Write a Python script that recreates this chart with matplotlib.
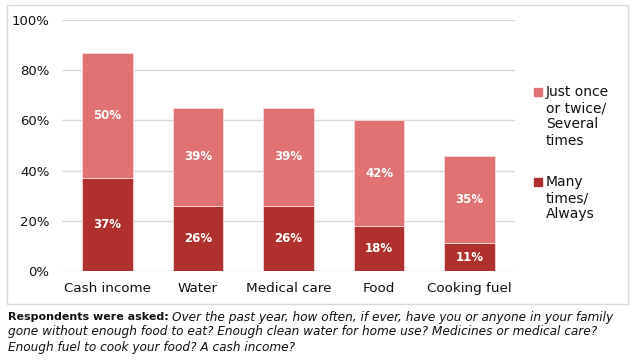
import matplotlib
matplotlib.use("Agg")
import matplotlib.pyplot as plt
from matplotlib.patches import Rectangle
import numpy as np

categories = ["Cash income", "Water", "Medical care", "Food", "Cooking fuel"]
many_times = [37, 26, 26, 18, 11]
once_twice = [50, 39, 39, 42, 35]
series_names = ["Just once\nor twice/\nSeveral\ntimes", "Many\ntimes/\nAlways"]
yticks = [0, 20, 40, 60, 80, 100]

LIGHT = "#E07274"
DARK = "#B0302E"
GRID = "#D9D9D9"

plt.rcParams['font.family'] = ['DejaVu Sans']

W, H = 637, 361
fig = plt.figure(figsize=(W / 100, H / 100), dpi=100)

def fx(x): return x / W
def fy(y): return 1 - y / H

ax = fig.add_axes([fx(62), fy(271), fx(515) - fx(62), fy(20) - fy(271)])
x = np.arange(len(categories))
bw = 0.56
ax.bar(x, many_times, width=bw, color=DARK, edgecolor="#F3D6D6", linewidth=0.6, zorder=3)
ax.bar(x, once_twice, width=bw, bottom=many_times, color=LIGHT, edgecolor="#F7DADA", linewidth=0.6, zorder=3)

for i in range(len(categories)):
    ax.text(x[i], many_times[i] / 2, f"{many_times[i]}%", ha="center", va="center",
            color="white", fontweight="bold", fontsize=8.5, zorder=4)
    ax.text(x[i], many_times[i] + once_twice[i] / 2, f"{once_twice[i]}%", ha="center", va="center",
            color="white", fontweight="bold", fontsize=8.5, zorder=4)

ax.set_ylim(0, 100)
ax.set_xlim(-0.5, len(categories) - 0.5)
ax.set_yticks(yticks)
ax.set_yticklabels([f"{v}%" for v in yticks], fontsize=9.5)
ax.set_xticks(x)
ax.set_xticklabels(categories, fontsize=9.7)
ax.tick_params(axis="both", length=0, colors="#111111")
ax.tick_params(axis="y", pad=9)
ax.tick_params(axis="x", pad=8)
ax.grid(axis="y", color=GRID, linewidth=1, zorder=0)
for s in ax.spines.values():
    s.set_visible(False)

# outer box
fig.patches.append(Rectangle((fx(7), fy(304)), fx(628) - fx(7), fy(5) - fy(304),
                             transform=fig.transFigure, fill=False, edgecolor=GRID, linewidth=1))

# legend
leg_y = [88, 178]
leg_c = [LIGHT, DARK]
for name, yy, c in zip(series_names, leg_y, leg_c):
    fig.patches.append(Rectangle((fx(534), fy(yy + 8)), fx(8), fy(0) - fy(8),
                                 transform=fig.transFigure, color=c))
    fig.text(fx(546), fy(yy - 3), name, ha="left", va="top", fontsize=10,
             linespacing=1.2, color="#111111")

# caption
fig.canvas.draw()
r = fig.canvas.get_renderer()
t1 = fig.text(fx(8), fy(317), "Respondents were asked:", fontsize=8.0, fontweight="bold",
              va="center", ha="left", color="#111111")
bb = t1.get_window_extent(renderer=r)
fig.text(bb.x1 / W + fx(3), fy(317), "Over the past year, how often, if ever, have you or anyone in your family",
         fontsize=8.7, style="italic", va="center", ha="left", color="#111111")
fig.text(fx(8), fy(332), "gone without enough food to eat? Enough clean water for home use? Medicines or medical care?",
         fontsize=8.7, style="italic", va="center", ha="left", color="#111111")
fig.text(fx(8), fy(347), "Enough fuel to cook your food? A cash income?",
         fontsize=8.7, style="italic", va="center", ha="left", color="#111111")

fig.savefig("out.png", dpi=100)
